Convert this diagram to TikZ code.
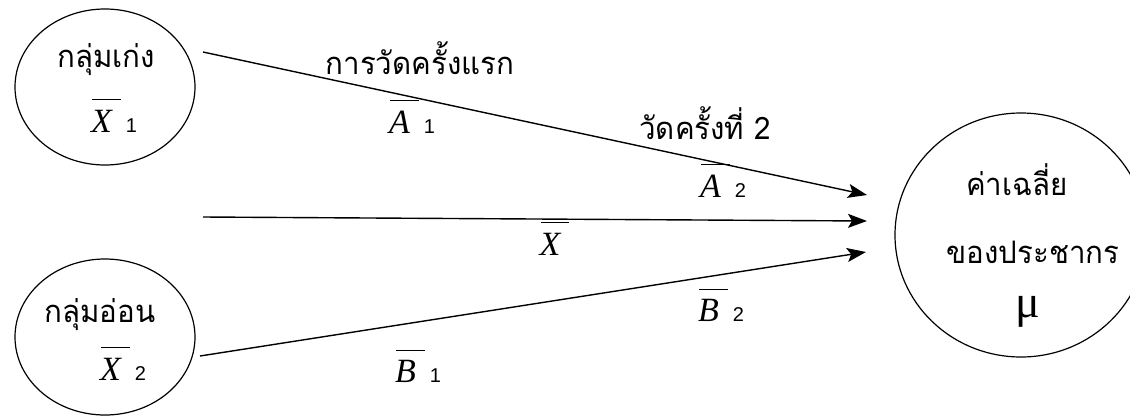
\documentclass[tikz,border=0pt]{standalone}
\usepackage{fontspec}
\setmainfont{Liberation Serif}
\newfontfamily\thaifont[Script=Thai,FakeStretch=0.95]{Loma}
\newfontfamily\digfont{Liberation Sans}
\usetikzlibrary{shapes.geometric,arrows.meta}
\newlength\barwd
\newcommand\ovl[1]{\setbox0=\hbox{\fontsize{34}{34}\selectfont\itshape #1}\setlength\barwd{\wd0}\addtolength\barwd{8pt}\rlap{\hspace{1pt}\raisebox{32pt}{\rule{\barwd}{1pt}}}\box0}
\newcommand\lab[2]{\ovl{#1}\hspace{14pt}{\digfont\fontsize{20}{20}\selectfont #2}}
\tikzset{
  blob/.style={draw, ellipse, line width=1.2pt, inner sep=0pt},
  thaitxt/.style={font=\thaifont\fontsize{31}{33}\selectfont, inner sep=0pt, anchor=center},
  sym/.style={inner sep=0pt, anchor=center},
  conn/.style={line width=1.4pt, -{Stealth[length=19pt,width=14pt,inset=4pt]}}
}
\begin{document}
\begin{tikzpicture}[x=1pt,y=-1pt]
\useasboundingbox (0,0) rectangle (1130,416);
\clip (0,0) rectangle (1130,416);
% group nodes
\node[blob, minimum width=180pt, minimum height=156pt] (g1) at (105,87) {};
\node[blob, minimum width=180pt, minimum height=156pt] (g2) at (105,337) {};
\node[blob, minimum width=252pt, minimum height=244pt] (pop) at (1021,235) {};
% texts in groups
\node[thaitxt] (t1) at (106,60) {กลุ่มเก่ง};
\node[sym] (x1) at (114,115.5) {\lab{X}{1}};
\node[thaitxt] (t2) at (100,315) {กลุ่มอ่อน};
\node[sym] (x2) at (123,363.5) {\lab{X}{2}};
\node[thaitxt] (t3) at (1017,180) {ค่าเฉลี่ย};
\node[thaitxt] (t4) at (1033,252) {ของประชากร};
\node[sym, font=\fontsize{46}{46}\selectfont] (mu) at (1028,312) {μ};
% connector ends
\coordinate (s1) at (203,52);
\coordinate (e1) at (867,195);
\coordinate (s2) at (203,217);
\coordinate (e2) at (867,221);
\coordinate (s3) at (200,356);
\coordinate (e3) at (866,252);
\draw[conn] (s1) -- (e1);
\draw[conn] (s2) -- (e2);
\draw[conn] (s3) -- (e3);
% labels
\node[thaitxt] (l1) at (420,58) {การวัดครั้งแรก};
\node[sym] (a1) at (412,116.5) {\lab{A}{1}};
\node[thaitxt] (l2) at (705,123) {วัดครั้งที่ 2};
\node[sym] (a2) at (723,180.5) {\lab{A}{2}};
\node[sym] (xb) at (550,238.5) {\ovl{X}};
\node[sym] (b2) at (721,305.5) {\lab{B}{2}};
\node[sym] (b1) at (418,366.5) {\lab{B}{1}};
\end{tikzpicture}
\end{document}
